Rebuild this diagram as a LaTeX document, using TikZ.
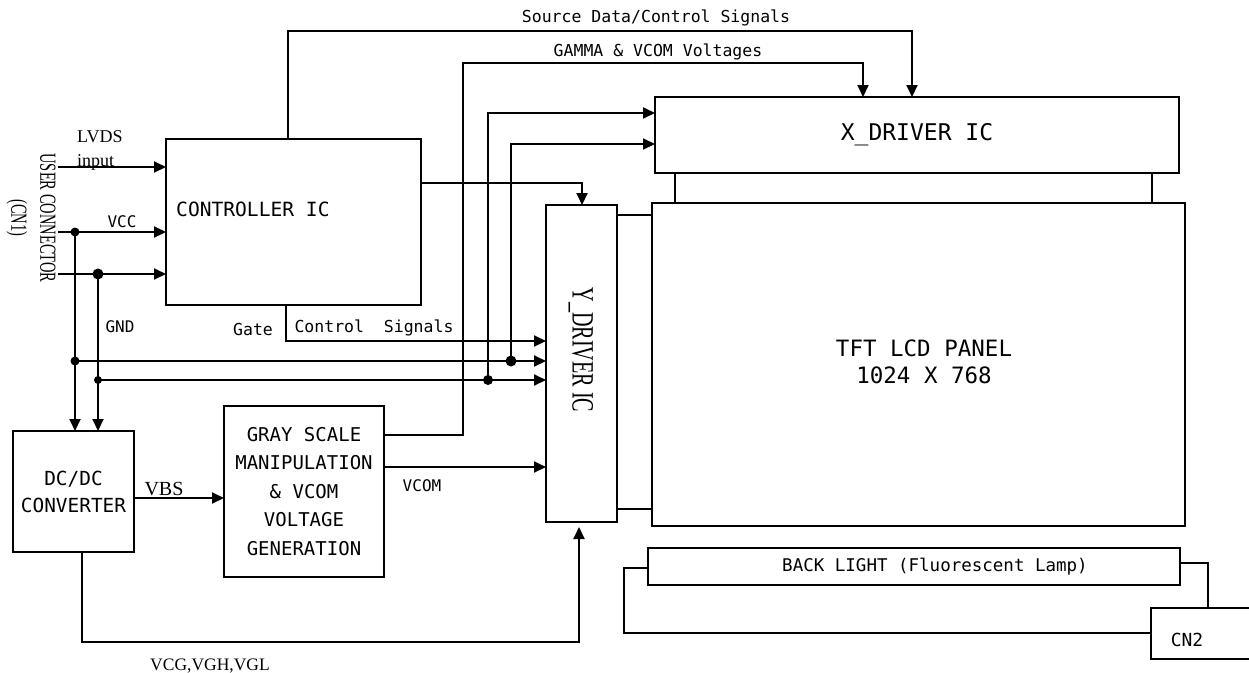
\documentclass[tikz,border=0pt]{standalone}
\usepackage{fontspec}
\setmainfont{Liberation Serif}
\newfontfamily\monof{DejaVu Sans Mono}
\usetikzlibrary{arrows.meta}
\newcommand{\fsz}[1]{\fontsize{#1}{#1}\selectfont}
\begin{document}
\begin{tikzpicture}[x=1pt,y=-1pt,
  box/.style={draw, line width=1.9pt, inner sep=0pt, outer sep=0pt, anchor=north west},
  wire/.style={line width=1.9pt},
  arr/.style={wire, -{Triangle[length=12pt,width=11pt]}},
  jdot/.style={circle, fill, inner sep=0pt, minimum size=9pt},
  txt/.style={inner sep=0pt},
  lbl/.style={inner sep=0pt, font=\monof\fsz{16.5}},
  slbl/.style={inner sep=0pt, font=\fsz{18}}]
\useasboundingbox (0,0) rectangle (1249,672);

% blocks
\node[box, minimum width=255pt, minimum height=166pt] (ctrl) at (166,139) {};
\node[txt, anchor=west, font=\monof\fsz{19.6}] (ctrlt) at (176,209) {CONTROLLER IC};
\node[box, minimum width=524pt, minimum height=76pt, font=\monof\fsz{23}] (xdrv) at (655,97) {X\_DRIVER IC};
\node[box, minimum width=533pt, minimum height=323pt] (tft) at (652,203) {};
\node[txt, align=center, font=\monof\fontsize{22.5}{27}\selectfont] (tftt) at (924,362) {TFT LCD PANEL\\1024 X 768};
\node[box, minimum width=71pt, minimum height=317pt] (ydrv) at (546,205) {};
\node[txt, rotate=-90, font=\fsz{31}] (ydrvt) at (581,350) {\scalebox{0.65}[1]{Y\_DRIVER IC}};
\node[box, minimum width=121pt, minimum height=121pt, align=center, font=\monof\fontsize{19.4}{27}\selectfont] (dcdc) at (13,431) {DC/DC\\CONVERTER};
\node[box, minimum width=160pt, minimum height=171pt, align=center, font=\monof\fontsize{19}{28.5}\selectfont] (gray) at (224,406) {GRAY SCALE\\MANIPULATION\\\& VCOM\\VOLTAGE\\GENERATION};
\node[box, minimum width=532pt, minimum height=37pt] (bl) at (648,548) {};
\node[txt, font=\monof\fsz{17.5}] (blt) at (935,567) {BACK LIGHT (Fluorescent Lamp)};
\node[box, minimum width=130pt, minimum height=51pt] (cn2) at (1151,608) {};
\node[txt, font=\monof\fsz{18}] (cn2t) at (1187,640) {CN2};

% user connector
\node[txt, rotate=-90, align=center, font=\fontsize{23}{29}\selectfont] (cn1) at (31,218) {\scalebox{0.63}[1]{USER CONNECTOR}\\\scalebox{0.63}[1]{(CN1)}};

% inputs
\coordinate (lv) at (58,167);
\coordinate (vcc) at (58,232);
\coordinate (gnd) at (58,274);
\draw[arr] (lv) -- (lv -| ctrl.west);
\draw[arr] (vcc) -- (vcc -| ctrl.west);
\draw[arr] (gnd) -- (gnd -| ctrl.west);

\node[jdot, minimum size=9pt] (d1) at (75,232) {};
\node[jdot, minimum size=11pt] (d2) at (98,274) {};
\node[jdot, minimum size=9pt] (d3) at (75,361) {};
\node[jdot, minimum size=8pt] (d4) at (98,380) {};
\node[jdot, minimum size=11pt] (d5) at (511,361) {};
\node[jdot, minimum size=10pt] (d6) at (488,380) {};

\draw[arr] (d1.center) -- (d1.center |- dcdc.north);
\draw[arr] (d2.center) -- (d2.center |- dcdc.north);
\draw[arr] (d3.center) -- (d3.center -| ydrv.west);
\draw[arr] (d4.center) -- (d4.center -| ydrv.west);
\coordinate (x5) at (511,144);
\coordinate (x6) at (488,113);
\draw[arr] (d5.center) -- (x5) -- (x5 -| xdrv.west);
\draw[arr] (d6.center) -- (x6) -- (x6 -| xdrv.west);

% gate control
\coordinate (g1) at (286,305);
\coordinate (g2) at (286,341);
\draw[arr] (g1) -- (g2) -- (g2 -| ydrv.west);
% controller to Y driver
\coordinate (c1) at (421,183);
\coordinate (c2) at (582,183);
\draw[arr] (c1) -- (c2) -- (c2 |- ydrv.north);
% source data
\coordinate (s1) at (288,139);
\coordinate (s2) at (288,31);
\coordinate (s3) at (912,31);
\draw[arr] (s1) -- (s2) -- (s3) -- (s3 |- xdrv.north);
% gamma
\coordinate (m1) at (384,435);
\coordinate (m2) at (463,435);
\coordinate (m3) at (463,63);
\coordinate (m4) at (863,63);
\draw[arr] (m1) -- (m2) -- (m3) -- (m4) -- (m4 |- xdrv.north);
% vcom
\coordinate (v1) at (384,467);
\draw[arr] (v1) -- (v1 -| ydrv.west);
% vbs
\coordinate (b1) at (134,498);
\draw[arr] (b1) -- (b1 -| gray.west);
% dc/dc to Y driver
\coordinate (p1) at (82,552);
\coordinate (p2) at (82,642);
\coordinate (p3) at (579,642);
\coordinate (p4) at (579,527);
\draw[arr] (p1) -- (p2) -- (p3) -- (p4);

% driver to panel
\coordinate (t1) at (675,0);
\coordinate (t2) at (1152,0);
\draw[wire] (t1 |- xdrv.south) -- (t1 |- tft.north);
\draw[wire] (t2 |- xdrv.south) -- (t2 |- tft.north);
\coordinate (y1) at (0,215);
\coordinate (y2) at (0,509);
\draw[wire] (y1 -| ydrv.east) -- (y1 -| tft.west);
\draw[wire] (y2 -| ydrv.east) -- (y2 -| tft.west);

% backlight to CN2
\coordinate (k1) at (624,568);
\coordinate (k2) at (624,633);
\draw[wire] (k1 -| bl.west) -- (k1) -- (k2) -- (k2 -| cn2.west);
\coordinate (r1) at (1208,563);
\draw[wire] (r1 -| bl.east) -- (r1) -- (r1 |- cn2.north);

% labels
\node[lbl] (lsrc) at (656,18) {Source Data/Control Signals};
\node[lbl] (lgam) at (658,52) {GAMMA \& VCOM Voltages};
\node[lbl] (lgate) at (253,329) {Gate};
\node[lbl] (lctl) at (374,328) {Control\ \ Signals};
\node[lbl, font=\monof\fsz{16}] (lvcc) at (122,222) {VCC};
\node[lbl, font=\monof\fsz{16}] (lgnd) at (120,327) {GND};
\node[lbl, font=\monof\fsz{16}] (lvcom) at (422,486) {VCOM};
\node[slbl, font=\fsz{20}] (lvbs) at (164,489) {VBS};
\node[slbl, anchor=base west] (llvds) at (77,142) {LVDS};
\node[slbl, anchor=base west] (linp) at (77,166) {input};
\node[slbl, anchor=base west, font=\fsz{17.5}] (lvcg) at (150,670) {VCG,VGH,VGL};
\end{tikzpicture}
\end{document}
